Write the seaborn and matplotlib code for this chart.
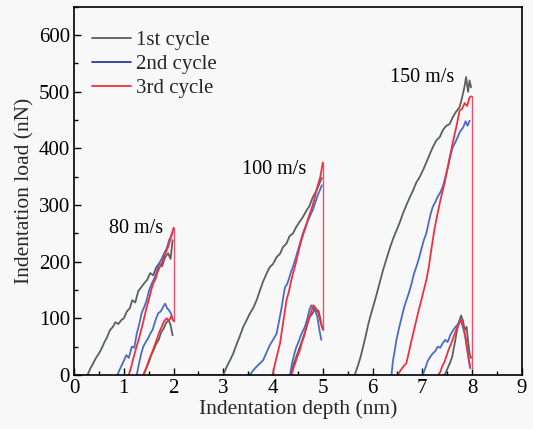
import matplotlib
matplotlib.use("Agg")
import matplotlib.pyplot as plt
from matplotlib.lines import Line2D
from matplotlib.ticker import MultipleLocator
import seaborn as sns
import pandas as pd

# ---------------- data ----------------
cycles = ["1st cycle", "2nd cycle", "3rd cycle"]
speed_labels = ["80 m/s", "100 m/s", "150 m/s"]
speed_label_pos_x = [1.24, 4.03, 6.99]
speed_label_pos_y = [259, 362, 525]

# 80 m/s
g80_load_x = [0.27,0.33,0.38,0.44,0.50,0.55,0.61,0.66,0.72,0.78,0.83,0.89,0.95,1.00,1.06,1.12,1.17,1.23,1.29,1.35,1.41,1.47,1.53,1.59,1.65,1.71,1.77,1.83,1.89,1.94,1.98]
g80_load_y = [0,12,20,30,38,46,58,66,79,85,93,90,97,100,112,118,132,128,148,155,162,168,180,176,190,197,192,208,215,205,238]
g80_unl_x = [1.39,1.45,1.50,1.55,1.60,1.65,1.70,1.75,1.80,1.85,1.90,1.94,1.98]
g80_unl_y = [0,12,22,35,44,55,62,75,82,92,97,88,70]
b80_load_x = [0.87,0.93,0.99,1.05,1.10,1.16,1.21,1.26,1.31,1.36,1.41,1.46,1.51,1.56,1.61,1.66,1.71,1.76,1.81,1.86,1.91,1.95,1.98]
b80_load_y = [0,12,23,35,30,50,48,73,90,110,120,132,150,161,170,182,197,205,215,223,238,245,252]
b80_unl_x = [1.26,1.30,1.35,1.39,1.44,1.49,1.53,1.58,1.63,1.69,1.74,1.79,1.83,1.87,1.91,1.95,1.98]
b80_unl_y = [0,18,38,50,58,65,73,80,95,109,112,120,126,118,114,108,100]
r80_load_x = [1.10,1.15,1.19,1.24,1.29,1.33,1.38,1.42,1.46,1.51,1.55,1.59,1.64,1.68,1.72,1.76,1.81,1.85,1.89,1.93,1.97,2.00]
r80_load_y = [0,15,29,45,60,73,90,105,120,135,150,161,170,182,190,197,210,218,226,238,250,260]
r80_unl_x = [1.40,1.45,1.50,1.56,1.61,1.66,1.71,1.76,1.81,1.86,1.91,1.95,2.00]
r80_unl_y = [0,12,25,38,50,62,75,85,95,100,96,103,95]

# 100 m/s
g100_load_x = [3.00,3.07,3.13,3.20,3.27,3.33,3.40,3.47,3.53,3.60,3.67,3.73,3.80,3.87,3.93,4.00,4.07,4.14,4.20,4.27,4.33,4.40,4.47,4.53,4.60,4.67,4.73,4.80,4.87,4.94,4.98]
g100_load_y = [0,15,25,38,55,68,85,97,108,118,132,148,165,179,190,196,208,214,226,232,245,250,262,270,279,290,298,314,325,340,348]
g100_unl_x = [4.35,4.40,4.45,4.50,4.54,4.59,4.64,4.69,4.74,4.79,4.84,4.88,4.91,4.95,4.98]
g100_unl_y = [0,15,28,40,50,62,75,90,103,108,118,112,114,100,85]
b100_load_x = [3.53,3.60,3.67,3.73,3.80,3.87,3.93,4.00,4.07,4.12,4.17,4.21,4.24,4.28,4.32,4.36,4.40,4.45,4.50,4.55,4.60,4.65,4.70,4.75,4.80,4.85,4.90,4.94,4.98]
b100_load_y = [0,8,15,20,26,40,52,62,73,95,118,140,155,160,170,182,191,205,220,235,250,262,272,282,292,305,318,326,335]
b100_unl_x = [4.34,4.38,4.43,4.47,4.51,4.56,4.60,4.64,4.69,4.73,4.77,4.81,4.85,4.89,4.93,4.97]
b100_unl_y = [0,20,38,50,58,70,78,85,100,115,123,118,112,103,80,62]
r100_load_x = [3.99,4.04,4.09,4.14,4.18,4.23,4.27,4.32,4.36,4.40,4.45,4.49,4.53,4.57,4.62,4.66,4.70,4.74,4.79,4.83,4.87,4.91,4.95,4.98,5.00]
r100_load_y = [0,20,38,56,80,108,132,148,165,179,195,210,225,238,252,262,275,285,298,310,326,338,350,365,375]
r100_unl_x = [4.37,4.41,4.46,4.50,4.54,4.58,4.63,4.67,4.71,4.76,4.81,4.86,4.91,4.95,5.00]
r100_unl_y = [0,12,25,35,44,58,70,85,97,110,123,118,109,95,80]

# 150 m/s
g150_load_x = [5.64,5.70,5.76,5.81,5.86,5.91,5.96,6.01,6.08,6.14,6.21,6.28,6.34,6.41,6.48,6.55,6.61,6.68,6.75,6.81,6.88,6.95,7.01,7.08,7.15,7.21,7.28,7.35,7.41,7.48,7.55,7.61,7.68,7.75,7.80,7.85,7.88,7.92,7.95,7.98]
g150_load_y = [0,15,32,50,68,88,105,120,142,162,185,205,222,240,255,270,285,300,314,325,340,350,361,375,390,402,414,420,432,440,443,455,465,473,490,510,526,500,520,508]
g150_unl_x = [7.45,7.50,7.55,7.60,7.65,7.70,7.75,7.78,7.82,7.85,7.89,7.92,7.95,7.98]
g150_unl_y = [0,10,20,32,55,80,97,105,95,79,85,60,38,30]
b150_load_x = [6.38,6.41,6.45,6.48,6.53,6.58,6.63,6.68,6.73,6.78,6.83,6.88,6.93,6.98,7.03,7.08,7.13,7.17,7.21,7.26,7.31,7.36,7.41,7.46,7.51,7.56,7.61,7.66,7.71,7.76,7.82,7.87,7.91,7.95]
b150_load_y = [0,25,45,62,82,100,118,132,145,160,178,191,205,222,238,250,270,285,297,305,315,322,332,348,365,385,402,410,420,430,437,448,440,449]
b150_unl_x = [7.01,7.06,7.11,7.16,7.21,7.26,7.31,7.36,7.41,7.46,7.51,7.56,7.62,7.67,7.72,7.75,7.79,7.83,7.88,7.92,7.96]
b150_unl_y = [0,12,25,32,38,42,50,48,56,62,58,70,79,85,90,97,92,80,62,35,12]
r150_load_x = [6.51,6.56,6.62,6.68,6.73,6.78,6.83,6.88,6.93,6.98,7.03,7.08,7.13,7.17,7.21,7.25,7.30,7.35,7.40,7.45,7.50,7.55,7.60,7.65,7.70,7.75,7.80,7.85,7.90,7.95,7.98]
r150_load_y = [0,8,15,21,40,60,78,97,115,132,150,167,190,215,238,260,282,303,322,340,362,384,405,425,445,467,470,480,475,490,492]
r150_unl_x = [7.32,7.36,7.40,7.44,7.48,7.53,7.58,7.63,7.68,7.72,7.76,7.79,7.83,7.86,7.88,7.92,7.96]
r150_unl_y = [0,5,15,22,32,45,55,68,79,88,95,97,85,70,56,35,15]

# vertical drops at max depth and zero-load segments
drop_x = [2.0, 5.0, 8.0]
drop_top = [260, 375, 492]
drop_bottom = [95, 80, 10]
zero_start = [0.0, 2.0, 5.0]
zero_end = [0.3, 3.15, 6.15]

# ---------------- build table ----------------
segments = [
    ("1st cycle", g80_load_x, g80_load_y), ("1st cycle", g80_unl_x, g80_unl_y),
    ("2nd cycle", b80_load_x, b80_load_y), ("2nd cycle", b80_unl_x, b80_unl_y),
    ("3rd cycle", r80_load_x, r80_load_y), ("3rd cycle", r80_unl_x, r80_unl_y),
    ("1st cycle", g100_load_x, g100_load_y), ("1st cycle", g100_unl_x, g100_unl_y),
    ("2nd cycle", b100_load_x, b100_load_y), ("2nd cycle", b100_unl_x, b100_unl_y),
    ("3rd cycle", r100_load_x, r100_load_y), ("3rd cycle", r100_unl_x, r100_unl_y),
    ("1st cycle", g150_load_x, g150_load_y), ("1st cycle", g150_unl_x, g150_unl_y),
    ("2nd cycle", b150_load_x, b150_load_y), ("2nd cycle", b150_unl_x, b150_unl_y),
    ("3rd cycle", r150_load_x, r150_load_y), ("3rd cycle", r150_unl_x, r150_unl_y),
]
rows = []
for i, (cyc, xs, ys) in enumerate(segments):
    for x, y in zip(xs, ys):
        rows.append({"depth": x, "load": y, "cycle": cyc, "seg": i})
df = pd.DataFrame(rows)

# ---------------- plot ----------------
sns.set_theme(style="ticks")
plt.rcParams["font.family"] = ["Liberation Serif", "DejaVu Serif"]
plt.rcParams["mathtext.fontset"] = "stix"

fig = plt.figure(figsize=(5.33, 4.29), dpi=100, facecolor="#f8f8f8")
ax = fig.add_axes([0.139, 0.126, 0.840, 0.858])
ax.set_facecolor("#f8f8f8")

palette = {"1st cycle": "#5a605f", "2nd cycle": "#4a6cc8", "3rd cycle": "#f0303f"}

# zero-load segments and drops
for xs, xe in zip(zero_start, zero_end):
    ax.plot([xs, xe], [0, 0], color="#ec6078", lw=1.3, zorder=1)
for x, t, b in zip(drop_x, drop_top, drop_bottom):
    ax.plot([x, x], [b, t], color="#e8506e", lw=1.0, zorder=1)

sns.lineplot(data=df, x="depth", y="load", hue="cycle", units="seg",
             estimator=None, sort=False, palette=palette, lw=1.3,
             legend=False, ax=ax, zorder=2)

for lab, x, y in zip(speed_labels, speed_label_pos_x, speed_label_pos_y):
    ax.text(x, y, lab, ha="center", va="center", fontsize=14.5, color="black")

ax.set_xlim(0, 9)
ax.set_ylim(0, 650)
ax.xaxis.set_major_locator(MultipleLocator(1))
ax.xaxis.set_minor_locator(MultipleLocator(0.5))
ax.yaxis.set_major_locator(MultipleLocator(100))
ax.yaxis.set_minor_locator(MultipleLocator(50))
ax.tick_params(which="both", direction="in", top=False, right=False,
               labelsize=15, colors="black", pad=3)
ax.tick_params(which="major", length=5, width=1.0)
ax.tick_params(which="minor", length=3, width=1.0)
for s in ax.spines.values():
    s.set_linewidth(1.2)
    s.set_color("black")

ax.set_xlabel("Indentation depth (nm)", fontsize=15.5, labelpad=1)
ax.set_ylabel("Indentation load (nN)", fontsize=15.5, labelpad=3)

handles = [Line2D([], [], color="#5a605f", lw=1.3),
           Line2D([], [], color="#2b3a9c", lw=1.3),
           Line2D([], [], color="#f0303f", lw=1.3)]
ax.legend(handles, cycles, loc="upper left", frameon=False, fontsize=15,
          handlelength=1.85, handletextpad=0.25, labelspacing=0.2,
          borderaxespad=0.0, borderpad=0.0, bbox_to_anchor=(0.04, 0.935))

fig.savefig("out.png", dpi=100, facecolor=fig.get_facecolor())
